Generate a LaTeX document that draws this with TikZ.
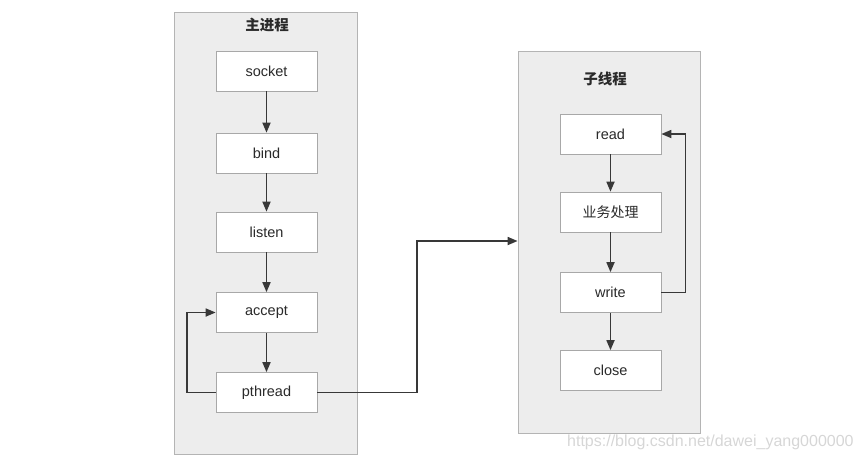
\documentclass[tikz,border=0pt]{standalone}
\usepackage{fontspec}
\setmainfont{Liberation Sans}
\newfontfamily\cjk{Noto Sans CJK SC}
\usetikzlibrary{arrows.meta}
\definecolor{panelfill}{HTML}{EDEDED}
\definecolor{panelline}{HTML}{B4B4B4}
\definecolor{boxline}{HTML}{A8A8A8}
\definecolor{ink}{HTML}{383838}
\definecolor{txt}{HTML}{2A2A2A}
\definecolor{wm}{HTML}{D6D6D6}
\begin{document}
\begin{tikzpicture}[x=1pt,y=-1pt,
  panel/.style={draw=panelline,line width=0.8pt,fill=panelfill,inner sep=0pt},
  stepbox/.style={draw=boxline,line width=0.7pt,fill=white,minimum width=101pt,minimum height=40pt,inner sep=0pt,text=txt,font=\fontsize{14.5}{16}\selectfont},
  ttl/.style={text=txt,font=\cjk\bfseries\fontsize{14.5}{16}\selectfont},
  arr/.style={draw=ink,line width=1.7pt,-{Triangle[length=10pt,width=8pt]}}]
\useasboundingbox (0,0) rectangle (863,459);
% panels
\node[panel,minimum width=183pt,minimum height=442pt] (lp) at (265.5,233) {};
\node[panel,minimum width=182pt,minimum height=382pt] (rp) at (609,242) {};
\node[ttl] (lt) at (267,25) {主进程};
\node[ttl] (rt) at (605,79) {子线程};
% left boxes
\node[stepbox] (socket) at (266.5,71) {socket};
\node[stepbox] (bind) at (266.5,153) {bind};
\node[stepbox] (listen) at (266.5,232) {listen};
\node[stepbox] (accept) at (266.5,312.5) {accept};
\node[stepbox] (pthread) at (266.5,392.5) {pthread};
% right boxes
\node[stepbox] (read) at (610.5,134) {read};
\node[stepbox,font=\cjk\fontsize{14}{16}\selectfont] (biz) at (610.5,212) {业务处理};
\node[stepbox] (write) at (610.5,292.5) {write};
\node[stepbox] (close) at (610.5,370.5) {close};
% connectors
\draw[arr] (socket) -- (bind);
\draw[arr] (bind) -- (listen);
\draw[arr] (listen) -- (accept);
\draw[arr] (accept) -- (pthread);
\draw[arr] (pthread.west) -- ++(-29,0) |- (accept.west);
\coordinate (jn) at (417,241);
\draw[arr] (pthread.east) -| (jn) -- (jn -| rp.west);
\draw[arr] (read) -- (biz);
\draw[arr] (biz) -- (write);
\draw[arr] (write) -- (close);
\draw[arr] (write.east) -- ++(24,0) |- (read.east);
% watermark
\node[text=wm,font=\fontsize{16}{18}\selectfont,anchor=west,inner sep=0pt] (wmk) at (567,442) {https://blog.csdn.net/dawei\_yang000000};
\end{tikzpicture}
\end{document}
